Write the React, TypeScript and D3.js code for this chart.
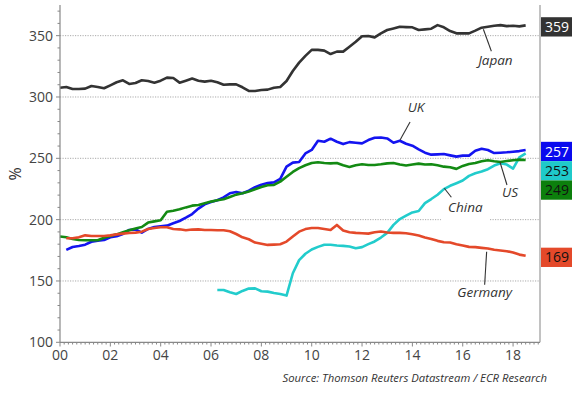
import React from "react";
import * as d3 from "d3";

// quarterly readings, index 0 = 2000 Q1
const japan = [
  307.6, 308.2, 306.5, 306.5, 306.8, 309, 308.2, 307.1, 309.5, 312,
  313.6, 310.6, 311.4, 313.6, 313, 311.7, 313.3, 315.8, 315.5, 311.7,
  313.3, 315, 313.3, 312.5, 313.3, 312, 310, 310.3, 310.3, 307.9,
  304.9, 304.9, 305.7, 306, 307.6, 308.2, 313, 321.2, 328, 333.5,
  338.4, 338.4, 337.8, 335, 337, 337, 341, 345, 349.5, 349.7,
  348.6, 351.9, 354.6, 355.9, 357.3, 357, 356.8, 354.6, 355.1, 355.7,
  358.6, 356.8, 353.8, 351.9, 351.9, 351.9, 354.1, 356.5, 357.3, 358.1,
  358.6, 357.8, 358.1, 357.6, 358.4,
];

const uk = [
  175.3, 177.7, 178.5, 179.6, 182, 182.9, 183.4, 185.6, 186.4, 188.3,
  191.6, 192.1, 189.4, 192.4, 194, 194.6, 195.1, 197, 198.9, 201.6,
  204.6, 209, 212.5, 214.4, 215.8, 218.2, 221.5, 222.6, 221.5, 223.6,
  226.4, 228.5, 229.9, 230.4, 233.2, 243.2, 246.5, 247, 254, 256.8,
  264.3, 263.5, 266, 263.5, 261.6, 263.2, 262.7, 262.2, 264.9, 266.8,
  267, 266.2, 262.7, 264.3, 261.9, 260.3, 257.3, 254.6, 253, 253.2,
  253.5, 252.4, 251.4, 252.2, 252.2, 256.2, 257.8, 256.8, 254.3, 254.6,
  254.9, 255.4, 255.9, 256.8,
];

const us = [
  186.2, 185.6, 184.2, 183.4, 183.2, 183.2, 183.2, 185.3, 186.7, 188,
  189.7, 191.3, 192.7, 194, 197.6, 198.6, 199.5, 206.5, 207.3, 208.4,
  210, 211.4, 212, 213.3, 214.7, 215.8, 216.6, 218.5, 220.4, 221.5,
  222.9, 224.7, 226.6, 228, 228.3, 231, 235, 238.9, 242, 244.3,
  246.2, 246.8, 246.2, 245.9, 246.2, 244.3, 243, 244.3, 245.1, 244.6,
  244.6, 245.1, 245.9, 246.2, 244.9, 244.1, 244.9, 245.7, 244.9, 245.1,
  244.3, 243.2, 242.7, 241.4, 243.8, 245.4, 246.2, 247.6, 248.4, 247.6,
  247, 247.8, 248.4, 248.9, 248.6,
];

const germany = [
  184.8, 184.8, 185.6, 187.2, 186.7, 186.7, 186.7, 187.2, 188, 188.6,
  189.1, 189.4, 190.2, 192.4, 193.2, 193.8, 193.8, 192.4, 192.1, 191.3,
  191.9, 192.1, 191.6, 191.6, 191.3, 191.3, 190.5, 188.3, 185.6, 184,
  181.3, 180.4, 179.4, 179.6, 179.9, 182.1, 186.2, 190.2, 192.3, 193.2,
  193.2, 192.4, 191.6, 195.7, 191.1, 189.7, 189.2, 188.9, 188.6, 189.7,
  190.3, 189.5, 189.2, 189.2, 188.9, 188.1, 187, 185.4, 184.3, 182.7,
  181.6, 181.4, 180, 178.9, 177.8, 177.6, 177, 176.5, 175.4, 174.9,
  174.3, 173.2, 171.5, 170.5,
];

const china = [
  142.7, 142.7, 140.8, 139.4, 141.9, 143.8, 144, 141.6, 141.3, 140.2,
  139.4, 138.1, 156.3, 167, 172.2, 175.7, 177.8, 179.5, 179.5, 178.9,
  178.6, 178.1, 176.7, 177.6, 180, 182.2, 185.4, 189.2, 195.7, 200.5,
  203.2, 205.9, 207, 213.5, 216.8, 220.3, 224.9, 227.6, 229.7, 231.9,
  235.7, 237.8, 239.2, 241.1, 244.1, 245.9, 244.9, 241.6, 250.8, 254.1,
];

const lastLabels = ["359", "257", "253", "249", "169"];

const series = [
  { name: "Japan", start: 0, values: japan, color: "#333333", box: "#333333", ink: "#ffffff", last: lastLabels[0] },
  { name: "UK", start: 1, values: uk, color: "#1414f0", box: "#0a0aee", ink: "#ffffff", last: lastLabels[1] },
  { name: "China", start: 25, values: china, color: "#22cccc", box: "#1fcaca", ink: "#111111", last: lastLabels[2] },
  { name: "US", start: 0, values: us, color: "#138a13", box: "#0c7f0c", ink: "#111111", last: lastLabels[3] },
  { name: "Germany", start: 1, values: germany, color: "#e4492a", box: "#e4492a", ink: "#111111", last: lastLabels[4] },
];

// annotation anchors (year offset, value) and label offsets in px
const notes = [
  { text: "Japan", t: 16.82, v: 355.2, lx: 8, ly: 22, tx: 12, ty: 31 },
  { text: "UK", t: 13.51, v: 265, lx: 10, ly: -18, tx: 16, ty: -33 },
  { text: "US", t: 17.48, v: 247, lx: 7, ly: 23, tx: 10, ty: 30 },
  { text: "China", t: 15.27, v: 225.6, lx: 7, ly: 9, tx: 21, ty: 19 },
  { text: "Germany", t: 16.95, v: 173.9, lx: -2, ly: 33, tx: -2, ty: 41 },
];

const yMajor = [100, 150, 200, 250, 300, 350];
const xLabels = ["00", "02", "04", "06", "08", "10", "12", "14", "16", "18"];

const W = 586;
const H = 395;
const FONT = "'Open Sans', 'Noto Sans', sans-serif";

const measure = (txt: string, font: string) => {
  const ctx = document.createElement("canvas").getContext("2d");
  if (!ctx) return txt.length * 7;
  ctx.font = font;
  return ctx.measureText(txt).width;
};

export default function App() {
  const x = d3.scaleLinear().domain([0, 19.07]).range([60, 540]);
  const y = d3.scaleLinear().domain([100, 375]).range([342.3, 5]);

  const line = d3
    .line<[number, number]>()
    .x(d => x(d[0]))
    .y(d => y(d[1]));

  const minorY = d3.range(100, 371, 10);
  const minorX = d3.range(0, 19.01, 1 / 6);

  // value boxes at the right, pushed apart when they overlap
  const boxH = 19.3;
  const boxes = series
    .map(s => ({ s, cy: y(s.values[s.values.length - 1]) + 1.5 }))
    .sort((a, b) => a.cy - b.cy);
  for (let i = 1; i < boxes.length; i++) {
    if (boxes[i].cy - boxes[i - 1].cy < boxH) boxes[i].cy = boxes[i - 1].cy + boxH;
  }

  const noteFont = `italic 13.5px ${FONT}`;

  return (
    <svg
      width={W}
      height={H}
      style={{ position: "absolute", left: 0, top: 0, background: "#fff" }}
      fontFamily={FONT}
    >
      {/* grid */}
      {yMajor.slice(1).map(v => (
        <line
          key={v}
          x1={60}
          x2={540}
          y1={y(v)}
          y2={y(v)}
          stroke="#aaa"
          strokeWidth={1}
          strokeDasharray="1.2 1.3"
        />
      ))}

      {/* lines */}
      {series.map(s => (
        <path
          key={s.name}
          d={line(s.values.map((v, i) => [(s.start + i) / 4, v] as [number, number])) || ""}
          fill="none"
          stroke={s.color}
          strokeWidth={2.6}
          strokeLinejoin="round"
        />
      ))}

      {/* annotations */}
      {notes.map(n => {
        const ax = x(n.t);
        const ay = y(n.v);
        const cx = ax + n.tx;
        const cy = ay + n.ty;
        const w = measure(n.text, noteFont);
        return (
          <g key={n.text}>
            <rect x={cx - w / 2 - 7} y={cy - 9} width={w + 14} height={23} fill="#fff" />
            <line x1={ax} y1={ay} x2={ax + n.lx} y2={ay + n.ly} stroke="#333" strokeWidth={1.1} />
            <text
              x={cx}
              y={cy}
              dy="0.35em"
              textAnchor="middle"
              fontStyle="italic"
              fontSize={13.5}
              fill="#333"
            >
              {n.text}
            </text>
          </g>
        );
      })}

      {/* axes */}
      <line x1={60} x2={60} y1={5} y2={342.3} stroke="#888" strokeWidth={1.2} />
      <line x1={540} x2={540} y1={5} y2={342.3} stroke="#999" strokeWidth={1.2} />
      <line x1={60} x2={540} y1={342.3} y2={342.3} stroke="#888" strokeWidth={1.2} />
      {minorY.map(v => (
        <line key={v} x1={v % 50 === 0 ? 56 : 57.5} x2={60} y1={y(v)} y2={y(v)} stroke="#888" />
      ))}
      {yMajor.map(v => (
        <text key={v} x={53} y={y(v)} dy="0.35em" textAnchor="end" fontSize={14} fill="#444">
          {v}
        </text>
      ))}
      {minorX.map((t, i) => (
        <line
          key={i}
          x1={x(t)}
          x2={x(t)}
          y1={342.3}
          y2={i % 12 === 0 ? 346.5 : 344.5}
          stroke="#888"
        />
      ))}
      {xLabels.map((l, i) => (
        <text key={l} x={x(i * 2)} y={360} textAnchor="middle" fontSize={14} fill="#444">
          {l}
        </text>
      ))}
      <text
        transform="translate(15.5,174) rotate(-90)"
        textAnchor="middle"
        dy="0.35em"
        fontSize={16}
        fill="#333"
      >
        %
      </text>

      {/* last value boxes */}
      {boxes.map(b => (
        <g key={b.s.name}>
          <rect x={541} y={b.cy - boxH / 2} width={31} height={boxH} fill={b.s.box} />
          <text
            x={557}
            y={b.cy}
            dy="0.36em"
            textAnchor="middle"
            fontSize={14}
            fill={b.s.ink}
          >
            {b.s.last}
          </text>
        </g>
      ))}

      <text x={547} y={382} textAnchor="end" fontStyle="italic" fontSize={11.3} fill="#333">
        Source: Thomson Reuters Datastream / ECR Research
      </text>
    </svg>
  );
}
